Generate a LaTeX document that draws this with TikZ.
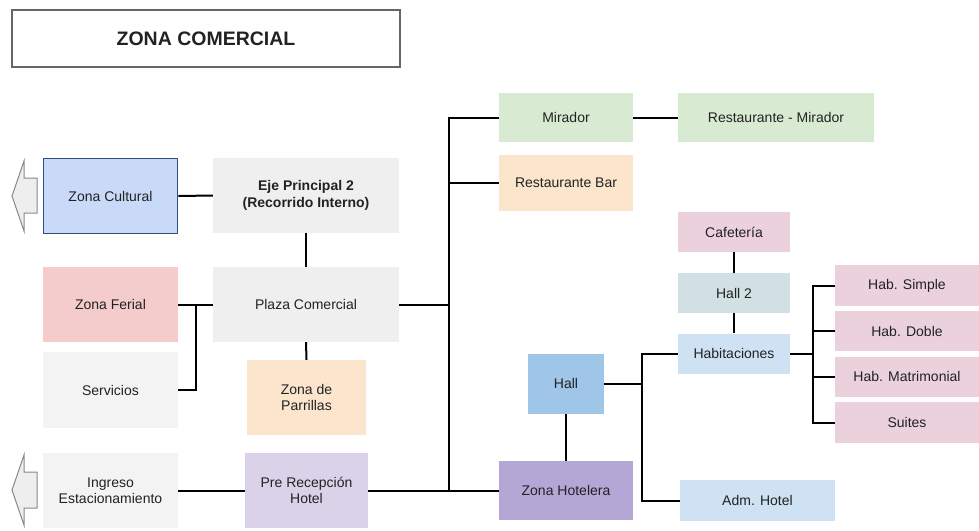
\documentclass[tikz,border=0pt]{standalone}
\usepackage{fontspec}
\setmainfont{Liberation Sans}
\definecolor{txt}{HTML}{222222}
\definecolor{cblue}{HTML}{C9DAF8}
\definecolor{cblueb}{HTML}{2B4F8C}
\definecolor{cgray}{HTML}{EFEFEF}
\definecolor{cgray2}{HTML}{F3F3F3}
\definecolor{cred}{HTML}{F4CCCC}
\definecolor{corange}{HTML}{FCE5CD}
\definecolor{cpurple}{HTML}{D9D2E9}
\definecolor{cgreen}{HTML}{D9EAD3}
\definecolor{cpink}{HTML}{EAD1DC}
\definecolor{cteal}{HTML}{D0E0E3}
\definecolor{clblue}{HTML}{CFE2F3}
\definecolor{cmblue}{HTML}{9FC5E8}
\definecolor{cviolet}{HTML}{B4A7D6}
\definecolor{arrfill}{HTML}{EEEEEE}
\definecolor{arrdraw}{HTML}{888888}
\definecolor{titleb}{HTML}{666666}
\begin{document}
\begin{tikzpicture}[x=1pt,y=-1pt,
  bx/.style={inner sep=0pt, text=txt, font=\fontsize{14}{16.5}\selectfont, align=center},
  ln/.style={line width=2pt, black},
  sidearrow/.style={fill=arrfill, draw=arrdraw, line width=1pt}]
\useasboundingbox (0,0) rectangle (979,530);
% title
\node[bx, draw=titleb, line width=2pt, minimum width=388pt, minimum height=57pt, font=\bfseries\fontsize{19.5}{22}\selectfont] (title) at (206,38.5) {ZONA COMERCIAL};
% left column
\node[bx, fill=cblue, draw=cblueb, line width=1.8pt, minimum width=134pt, minimum height=75pt] (zc) at (110.5,196) {Zona Cultural};
\node[bx, fill=cred, minimum width=135pt, minimum height=75pt] (ferial) at (110.5,304.5) {Zona Ferial};
\node[bx, fill=cgray2, minimum width=135pt, minimum height=76pt] (serv) at (110.5,390) {Servicios};
\node[bx, fill=cgray2, minimum width=135pt, minimum height=75pt] (ingreso) at (110.5,490.5) {Ingreso\\Estacionamiento};
% center column
\node[bx, fill=cgray, minimum width=186pt, minimum height=75pt, font=\bfseries\fontsize{14}{16.5}\selectfont] (eje) at (306,195.5) {Eje Principal 2\\(Recorrido Interno)};
\node[bx, fill=cgray, minimum width=186pt, minimum height=75pt] (plaza) at (306,304.5) {Plaza Comercial};
\node[bx, fill=corange, minimum width=119pt, minimum height=75pt] (parr) at (306.5,397.5) {Zona de\\Parrillas};
\node[bx, fill=cpurple, minimum width=123pt, minimum height=75pt] (pre) at (306.5,490.5) {Pre Recepción\\Hotel};
% right part
\node[bx, fill=cgreen, minimum width=134pt, minimum height=49pt] (mirador) at (566,117.5) {Mirador};
\node[bx, fill=corange, minimum width=134pt, minimum height=56pt] (rbar) at (566,183) {Restaurante Bar};
\node[bx, fill=cgreen, minimum width=196pt, minimum height=49pt] (rmir) at (776,117.5) {Restaurante - Mirador};
\node[bx, fill=cpink, minimum width=112pt, minimum height=40pt] (cafe) at (734,232) {Cafetería};
\node[bx, fill=cteal, minimum width=112pt, minimum height=40pt] (hall2) at (734,293) {Hall 2};
\node[bx, fill=clblue, minimum width=112pt, minimum height=40pt] (habit) at (734,353.5) {Habitaciones};
\node[bx, fill=cmblue, minimum width=76pt, minimum height=60pt] (hall) at (566,383.5) {Hall};
\node[bx, fill=cviolet, minimum width=134pt, minimum height=59pt] (zh) at (566,490.5) {Zona Hotelera};
\node[bx, fill=clblue, minimum width=155pt, minimum height=41pt] (adm) at (757.5,500.5) {Adm. Hotel};
\node[bx, fill=cpink, minimum width=144pt, minimum height=41pt] (hs) at (907,285.5) {Hab. Simple};
\node[bx, fill=cpink, minimum width=144pt, minimum height=40pt] (hd) at (907,331) {Hab. Doble};
\node[bx, fill=cpink, minimum width=144pt, minimum height=40pt] (hm) at (907,376.5) {Hab. Matrimonial};
\node[bx, fill=cpink, minimum width=144pt, minimum height=41pt] (su) at (907,422.5) {Suites};
% side arrows
\draw[sidearrow] (12,196) -- (24,161) -- (24,178) -- (37,178) -- (37,213) -- (24,213) -- (24,231) -- cycle;
\draw[sidearrow] (12,490) -- (24,455) -- (24,472) -- (37,472) -- (37,508) -- (24,508) -- (24,525) -- cycle;
% connectors
\coordinate (fb) at (196,304.5);
\coordinate (t1) at (449,117.5);
\coordinate (hb) at (642,383.5);
\coordinate (rb) at (813,353.5);
\draw[ln] (zc.east) -- (eje.west);
\draw[ln] (eje.south) -- (plaza.north);
\draw[ln] (ferial.east) -- (plaza.west);
\draw[ln] (serv.east) -| (fb);
\draw[ln] (plaza.south) -- (parr.north);
\draw[ln] (ingreso.east) -- (pre.west);
\draw[ln] (pre.east) -- (zh.west);
\draw[ln] (mirador.west) -| (t1 |- zh.west);
\draw[ln] (rbar.west) -- (rbar.west -| t1);
\draw[ln] (plaza.east) -- (plaza.east -| t1);
\draw[ln] (mirador.east) -- (rmir.west);
\draw[ln] (cafe.south) -- (hall2.north);
\draw[ln] (hall2.south) -- (habit.north);
\draw[ln] (hall.south) -- (zh.north);
\draw[ln] (hall.east) -- (hb);
\draw[ln] (habit.west) -| (hb |- adm.west) -- (adm.west);
\draw[ln] (habit.east) -- (rb);
\draw[ln] (hs.west) -| (rb |- su.west) -- (su.west);
\draw[ln] (hd.west) -- (hd.west -| rb);
\draw[ln] (hm.west) -- (hm.west -| rb);
\end{tikzpicture}
\end{document}
